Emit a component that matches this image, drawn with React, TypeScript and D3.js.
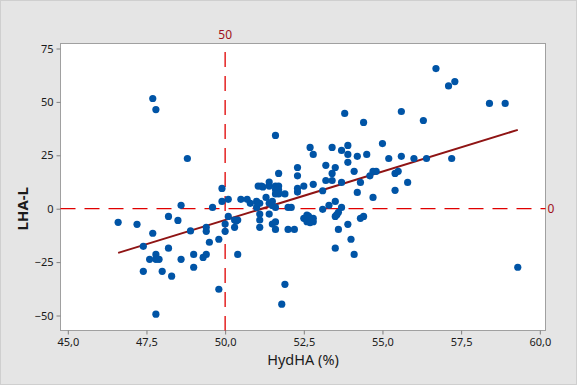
import React, { useEffect, useRef } from "react";
import * as d3 from "d3";

// HydHA (%) vs LHA-L
const hydHA = [
  46.6, 47.2, 47.7, 47.8, 47.7, 47.4, 47.6, 47.8, 47.8, 47.9, 47.4, 48.0, 48.3, 47.8,
  48.2, 48.2, 48.5, 48.6, 48.6, 48.8, 48.9, 49.0, 49.0, 49.3, 49.4, 49.4, 49.4, 49.5,
  49.6, 49.8, 49.8, 49.9, 49.9, 50.0, 50.0, 50.1, 50.1, 50.3, 50.3, 50.4, 50.4, 50.5,
  50.7, 50.8, 51.0, 51.0, 51.05, 51.15, 51.1, 51.1, 51.1, 51.1, 51.3, 51.4, 51.4, 51.4,
  51.4, 51.5, 51.5, 51.6, 51.6, 51.6, 51.6, 51.6, 51.6, 51.7, 51.7, 51.7, 51.7, 51.9,
  51.9, 51.8, 52.0, 52.0, 52.1, 52.2, 52.3, 52.3, 52.3, 52.3, 52.5, 52.5, 52.6, 52.6,
  52.7, 52.7, 52.8, 52.8, 52.8, 52.8, 53.1, 53.1, 53.2, 53.2, 53.3, 53.4, 53.4, 53.4,
  53.5, 53.5, 53.5, 53.5, 53.6, 53.6, 53.7, 53.7, 53.7, 53.8, 53.9, 53.9, 53.9, 53.9,
  54.0, 54.1, 54.1, 54.2, 54.2, 54.3, 54.3, 54.4, 54.4, 54.5, 54.6, 54.7, 54.7, 54.8,
  55.0, 55.2, 55.4, 55.4, 55.5, 55.6, 55.6, 55.8, 56.0, 56.3, 56.4, 56.7, 57.1, 57.2,
  57.3, 58.4, 58.9, 59.3, 52.7, 52.65, 52.75, 51.5, 51.2, 50.35, 53.55, 51.6,
];
const lhaL = [
  -6.4, -7.3, 51.6, 46.4, -11.5, -17.6, -23.7, -21.4, -23.7, -23.7, -29.3, -29.3, -31.6, -49.4,
  -3.6, -18.5, -5.5, 1.6, -23.7, 23.5, -10.4, -21.4, -27.4, -22.8, -21.4, -10.6, -8.7, -15.7,
  0.6, -14.3, -37.7, 9.5, 3.4, -7.2, -10.6, 4.4, -3.6, -5.3, -8.7, -5.3, -21.4, 4.4,
  4.4, 2.5, 3.4, 0.6, 10.6, 10.6, 2.5, -2.5, -5.3, -8.7, 5.3, 12.5, 10.6, 2.5,
  -2.5, 3.4, -7.2, 34.3, 10.6, 6.9, 0.6, -6.2, -9.7, 16.5, 10.6, 6.9, 8.7, 6.9,
  -35.4, -44.7, 0.6, -9.7, 0.6, -9.7, 19.3, 15.4, 9.5, 7.8, 10.6, -4.5, -3.0, -6.1,
  28.7, -5.0, 25.4, 11.4, -4.5, -6.1, 8.4, -0.3, 20.3, 13.2, 1.6, 28.7, 16.5, 13.2,
  19.3, 3.4, -3.6, -18.5, -9.7, -1.7, 0.6, 27.3, 12.3, 44.6, 29.6, 25.4, 21.7, -7.3,
  -14.3, 17.5, -21.4, 24.5, 7.6, 12.3, -4.5, 40.4, -3.6, 25.4, 15.4, 17.5, 5.3, 17.5,
  30.5, 23.5, 16.5, 8.6, 17.5, 45.5, 24.5, 12.3, 23.5, 41.3, 23.5, 65.6, 57.5, 23.5,
  59.5, 49.3, 49.3, -27.4, -6.5, -3.5, -5.5, 1.5, 10.2, -5.8, -2.8, 9.0,
];
const xTicks = [45, 47.5, 50, 52.5, 55, 57.5, 60];
const yTicks = [-50, -25, 0, 25, 50, 75];
const fitStart = [46.6, -20.7];
const fitEnd = [59.3, 36.9];
const refX = 50;
const refY = 0;

export default function App() {
  const svgRef = useRef<SVGSVGElement>(null);

  useEffect(() => {
    const W = 577;
    const H = 385;
    const box = { left: 60.5, right: 545.5, top: 43.5, bottom: 330.5 };
    const font = "'Noto Sans', 'DejaVu Sans', sans-serif";

    const svg = d3.select(svgRef.current).attr("width", W).attr("height", H);
    svg.selectAll("*").remove();

    svg.append("rect")
      .attr("x", 0.5).attr("y", 0.5).attr("width", W - 1).attr("height", H - 1)
      .attr("fill", "#e5e5e5").attr("stroke", "#cfcfcf");

    svg.append("rect")
      .attr("x", box.left).attr("y", box.top)
      .attr("width", box.right - box.left).attr("height", box.bottom - box.top)
      .attr("fill", "#ffffff").attr("stroke", "#a0a0a0");

    const x = d3.scaleLinear().domain([45, 60]).range([67.8, 539.8]);
    const y = d3.scaleLinear().domain([-50, 75]).range([315.5, 48.5]);

    const xAxis = svg.append("g")
      .attr("transform", `translate(0, ${box.bottom})`)
      .call(d3.axisBottom(x).tickValues(xTicks).tickSize(4).tickSizeOuter(0)
        .tickFormat((d) => d3.format(".1f")(d as number).replace(".", ",")));
    xAxis.select(".domain").remove();

    const yAxis = svg.append("g")
      .attr("transform", `translate(${box.left}, 0)`)
      .call(d3.axisLeft(y).tickValues(yTicks).tickSize(4).tickSizeOuter(0));
    yAxis.select(".domain").remove();

    [xAxis, yAxis].forEach((g) => {
      g.selectAll("line").attr("stroke", "#808080");
      g.selectAll("text").attr("fill", "#1a1a1a").attr("font-size", 11).attr("font-family", font);
    });
    xAxis.selectAll("text").attr("dy", "0.8em");

    // reference lines
    svg.append("line")
      .attr("x1", x(refX)).attr("x2", x(refX)).attr("y1", 52).attr("y2", box.bottom)
      .attr("stroke", "#e00000").attr("stroke-width", 1.3).attr("stroke-dasharray", "15,9");
    svg.append("line")
      .attr("x1", box.left).attr("x2", box.right).attr("y1", y(refY)).attr("y2", y(refY))
      .attr("stroke", "#e00000").attr("stroke-width", 1.3).attr("stroke-dasharray", "15,9");

    svg.append("text").text(String(refX))
      .attr("x", x(refX)).attr("y", 39).attr("text-anchor", "middle")
      .attr("font-size", 12).attr("font-family", font).attr("fill", "#a01020");
    svg.append("text").text(String(refY))
      .attr("x", box.right + 2).attr("y", y(refY) + 4.5)
      .attr("font-size", 12).attr("font-family", font).attr("fill", "#a01020");

    // fitted line
    svg.append("line")
      .attr("x1", x(fitStart[0])).attr("y1", y(fitStart[1]))
      .attr("x2", x(fitEnd[0])).attr("y2", y(fitEnd[1]))
      .attr("stroke", "#8f1414").attr("stroke-width", 2);

    svg.append("g").selectAll("circle")
      .data(hydHA.map((v, i) => [v, lhaL[i]]))
      .join("circle")
      .attr("cx", (d) => x(d[0]))
      .attr("cy", (d) => y(d[1]))
      .attr("r", 3.6)
      .attr("fill", "#0054a6");

    svg.append("text").text("HydHA (%)")
      .attr("x", (box.left + box.right) / 2).attr("y", 365).attr("text-anchor", "middle")
      .attr("font-size", 14.5).attr("font-family", font).attr("fill", "#1a1a1a");
    svg.append("text").text("LHA-L")
      .attr("transform", `translate(28, ${y(0)}) rotate(-90)`).attr("text-anchor", "middle")
      .attr("font-size", 15).attr("font-weight", "bold").attr("font-family", font).attr("fill", "#1a1a1a");
  }, []);

  return (
    <div style={{ position: "absolute", left: 0, top: 0 }}>
      <svg ref={svgRef}></svg>
    </div>
  );
}
